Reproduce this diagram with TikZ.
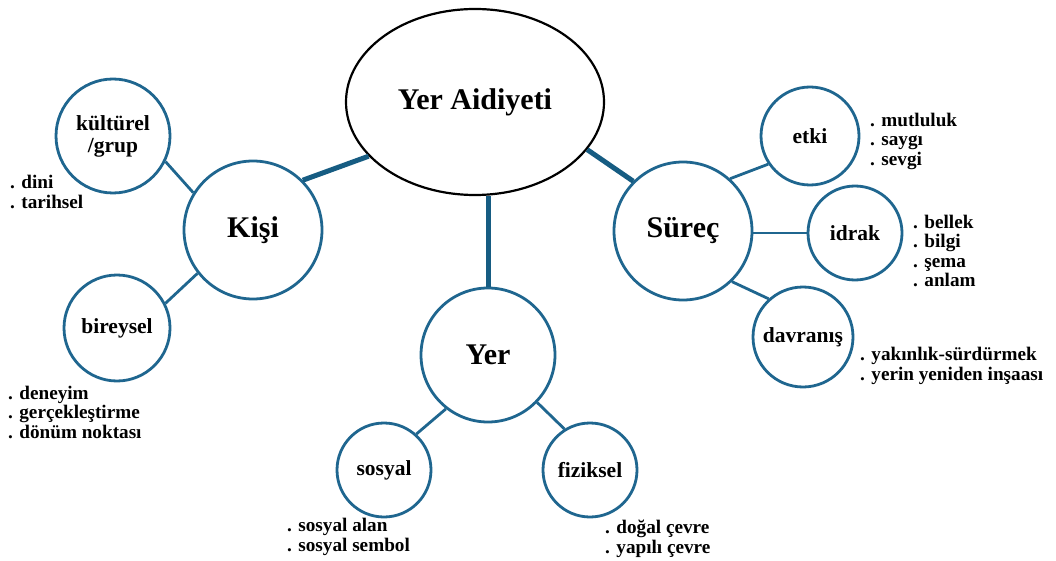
\documentclass[tikz,border=0pt]{standalone}
\usepackage{fontspec}
\setmainfont{Liberation Serif}
\usetikzlibrary{shapes.geometric}
\definecolor{cblue}{RGB}{31,102,143}
\definecolor{lblue}{RGB}{22,92,130}
\begin{document}
\begin{tikzpicture}[x=1pt,y=-1pt,
 bub/.style={circle,draw=cblue,line width=2.8pt,inner sep=0pt,font=\bfseries\fontsize{21.5}{22}\selectfont,align=center},
 big/.style={circle,draw=cblue,line width=2.8pt,minimum size=138pt,inner sep=0pt,font=\bfseries\fontsize{30}{32}\selectfont},
 lst/.style={anchor=west,align=left,inner sep=0pt,font=\bfseries\fontsize{19.2}{19.5}\selectfont},
 thinc/.style={draw=cblue,line width=2.8pt},
 thickc/.style={draw=lblue,line width=5pt}]
\useasboundingbox (0,0) rectangle (1056,561);
\node[ellipse,draw=black,line width=2.2pt,minimum width=258pt,minimum height=186pt,inner sep=0pt,font=\bfseries\fontsize{30}{32}\selectfont] (main) at (475,102) {Yer Aidiyeti};
\node[big] (kisi) at (253,230) {Kişi};
\node[big] (surec) at (683,231) {Süreç};
\node[big,minimum size=134pt] (yer) at (488,355) {Yer};
\node[bub,minimum size=114pt] (kult) at (113,136) {kültürel\\/grup};
\node[bub,minimum size=106pt] (bir) at (117,328) {bireysel};
\node[bub,minimum size=98pt] (etki) at (810,136) {etki};
\node[bub,minimum size=94pt] (idrak) at (855,233) {idrak};
\node[bub,minimum size=100pt] (davr) at (803,337) {davranış};
\node[bub,minimum size=94pt] (sosyal) at (384,470) {sosyal};
\node[bub,minimum size=94pt] (fiz) at (590,470) {fiziksel};
\draw[thickc] (kisi.45) -- (main.207);
\draw[thickc] (main.337) -- (surec.135);
\draw[thickc] (yer.north) -- (yer.north |- main.south);
\draw[thinc] (kisi.148) -- (kult.334);
\draw[thinc] (kisi.218) -- (bir.27);
\draw[thinc] (surec.48) -- (etki.214);
\draw[thinc] (idrak.west) -- (idrak.west -| surec.east);
\draw[thinc] (surec.314) -- (davr.132);
\draw[thinc] (yer.232) -- (sosyal.48);
\draw[thinc] (yer.316) -- (fiz.122);
\node[lst] (l1) at (10,192) {. dini\\. tarihsel};
\node[lst] (l2) at (8,412) {. deneyim\\. gerçekleştirme\\. dönüm noktası};
\node[lst] (l3) at (870,141) {. mutluluk\\. saygı\\. sevgi};
\node[lst] (l4) at (913,251) {. bellek\\. bilgi\\. şema\\. anlam};
\node[lst] (l5) at (860,366) {. yakınlık-sürdürmek\\. yerin yeniden inşaası};
\node[lst] (l6) at (287,537) {. sosyal alan\\. sosyal sembol};
\node[lst] (l7) at (605,539) {. doğal çevre\\. yapılı çevre};
\end{tikzpicture}
\end{document}
